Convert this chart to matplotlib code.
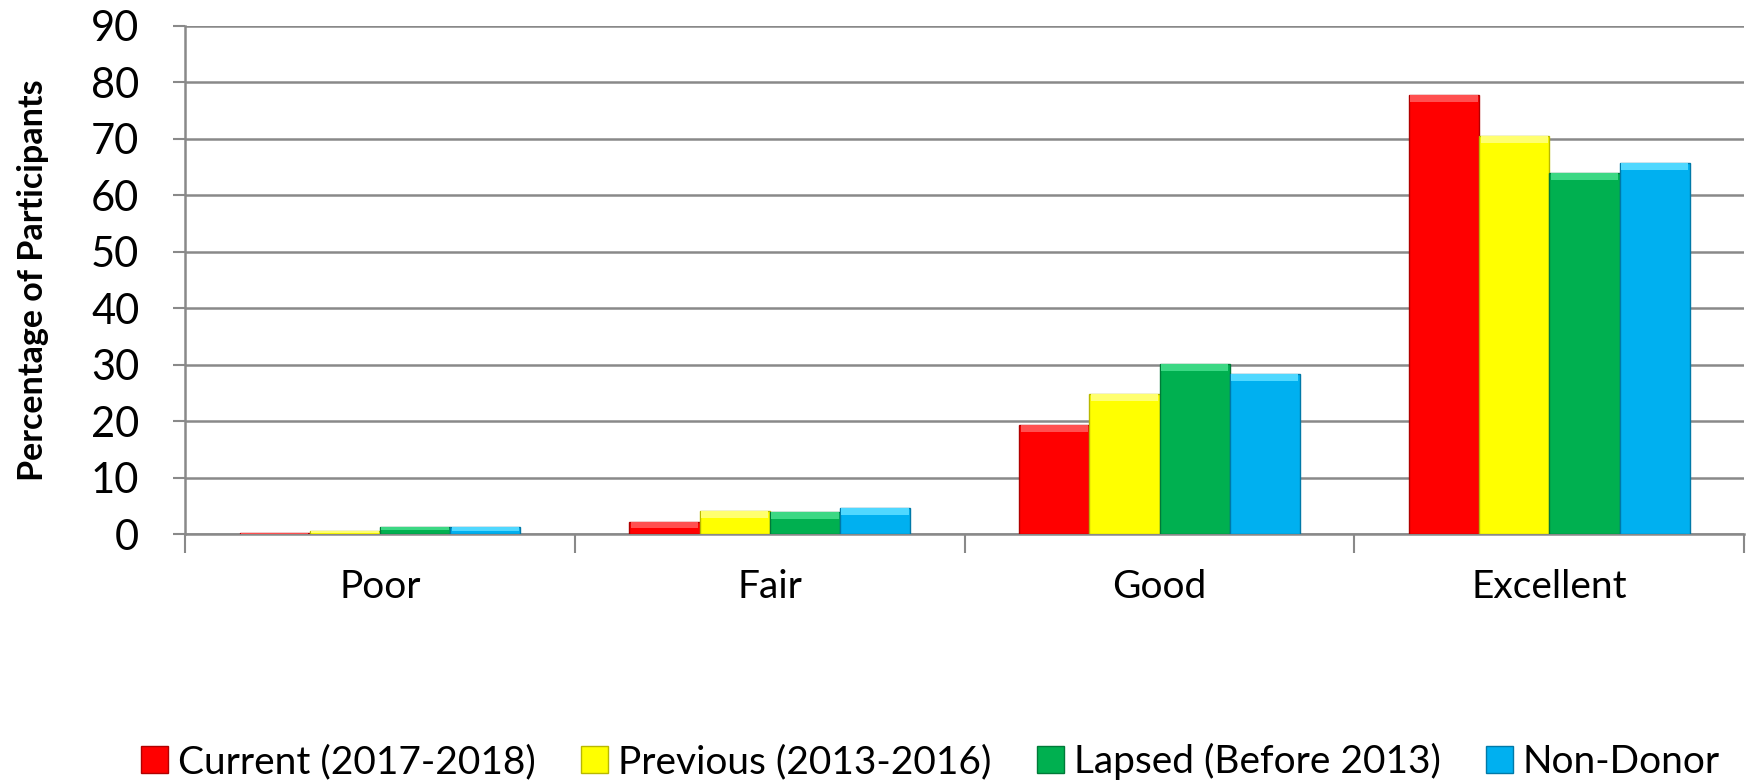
import numpy as np
from matplotlib import pyplot as plt

categories = ['Poor', 'Fair', 'Good', 'Excellent']
series_names = ['Current (2017-2018)', 'Previous (2013-2016)', 'Lapsed (Before 2013)', 'Non-Donor']
current = [0.2, 2.2, 19.3, 77.8]
previous = [0.5, 4.1, 24.8, 70.5]
lapsed = [1.3, 4.0, 30.1, 64.0]
non_donor = [1.2, 4.7, 28.4, 65.7]
y_ticks = list(range(0, 100, 10))

colors = ['#FF0000', '#FFFF00', '#00B050', '#00B0F0']
tops = ['#FF5050', '#FFFF70', '#3CD884', '#50D8FF']
edges = ['#B00000', '#B8B800', '#007A38', '#0079A8']

plt.rcParams['font.family'] = ['Lato', 'DejaVu Sans']

fig = plt.figure(figsize=(17.46, 7.82), dpi=100)
ax = fig.add_axes([0.106, 0.317, 0.893, 0.65])

x = np.arange(len(categories))
width = 0.18
all_series = [current, previous, lapsed, non_donor]
for i, vals in enumerate(all_series):
    offs = (i - 1.5) * width
    vals = np.array(vals)
    ax.bar(x + offs, vals, width, color=colors[i], edgecolor=edges[i], linewidth=1.0,
           label=series_names[i], zorder=3)
    # lighter bevel strip on top of each bar
    bev = np.minimum(vals * 0.5, 1.3)
    ax.bar(x + offs, bev, width * 0.96, bottom=vals - bev, color=tops[i], linewidth=0, zorder=4)

ax.set_ylim(0, 90)
ax.set_xlim(-0.5, len(categories) - 0.5)
ax.set_yticks(y_ticks)
ax.tick_params(axis='y', labelsize=30, length=9, width=1.5, color='#898989', pad=24)
ax.yaxis.grid(True, color='#898989', linewidth=1.8, zorder=0)
ax.set_axisbelow(True)

ax.set_xticks(np.arange(len(categories) + 1) - 0.5)
ax.set_xticklabels([])
ax.set_xticks(x, minor=True)
ax.set_xticklabels(categories, minor=True, fontsize=28)
ax.tick_params(axis='x', which='major', length=14, width=1.5, color='#898989')
ax.tick_params(axis='x', which='minor', length=0, pad=25)

for side in ['top', 'right']:
    ax.spines[side].set_visible(False)
for side in ['left', 'bottom']:
    ax.spines[side].set_color('#898989')
    ax.spines[side].set_linewidth(1.8)

ax.set_ylabel('Percentage of Participants', fontsize=24.5, fontweight='bold', labelpad=30)

ax.legend(loc='lower center', bbox_to_anchor=(0.478, -0.514), ncol=4, frameon=False,
          fontsize=28, handlelength=0.7, handleheight=0.7, handletextpad=0.25,
          columnspacing=1.17, borderaxespad=0)

fig.savefig('out.png', dpi=100)
